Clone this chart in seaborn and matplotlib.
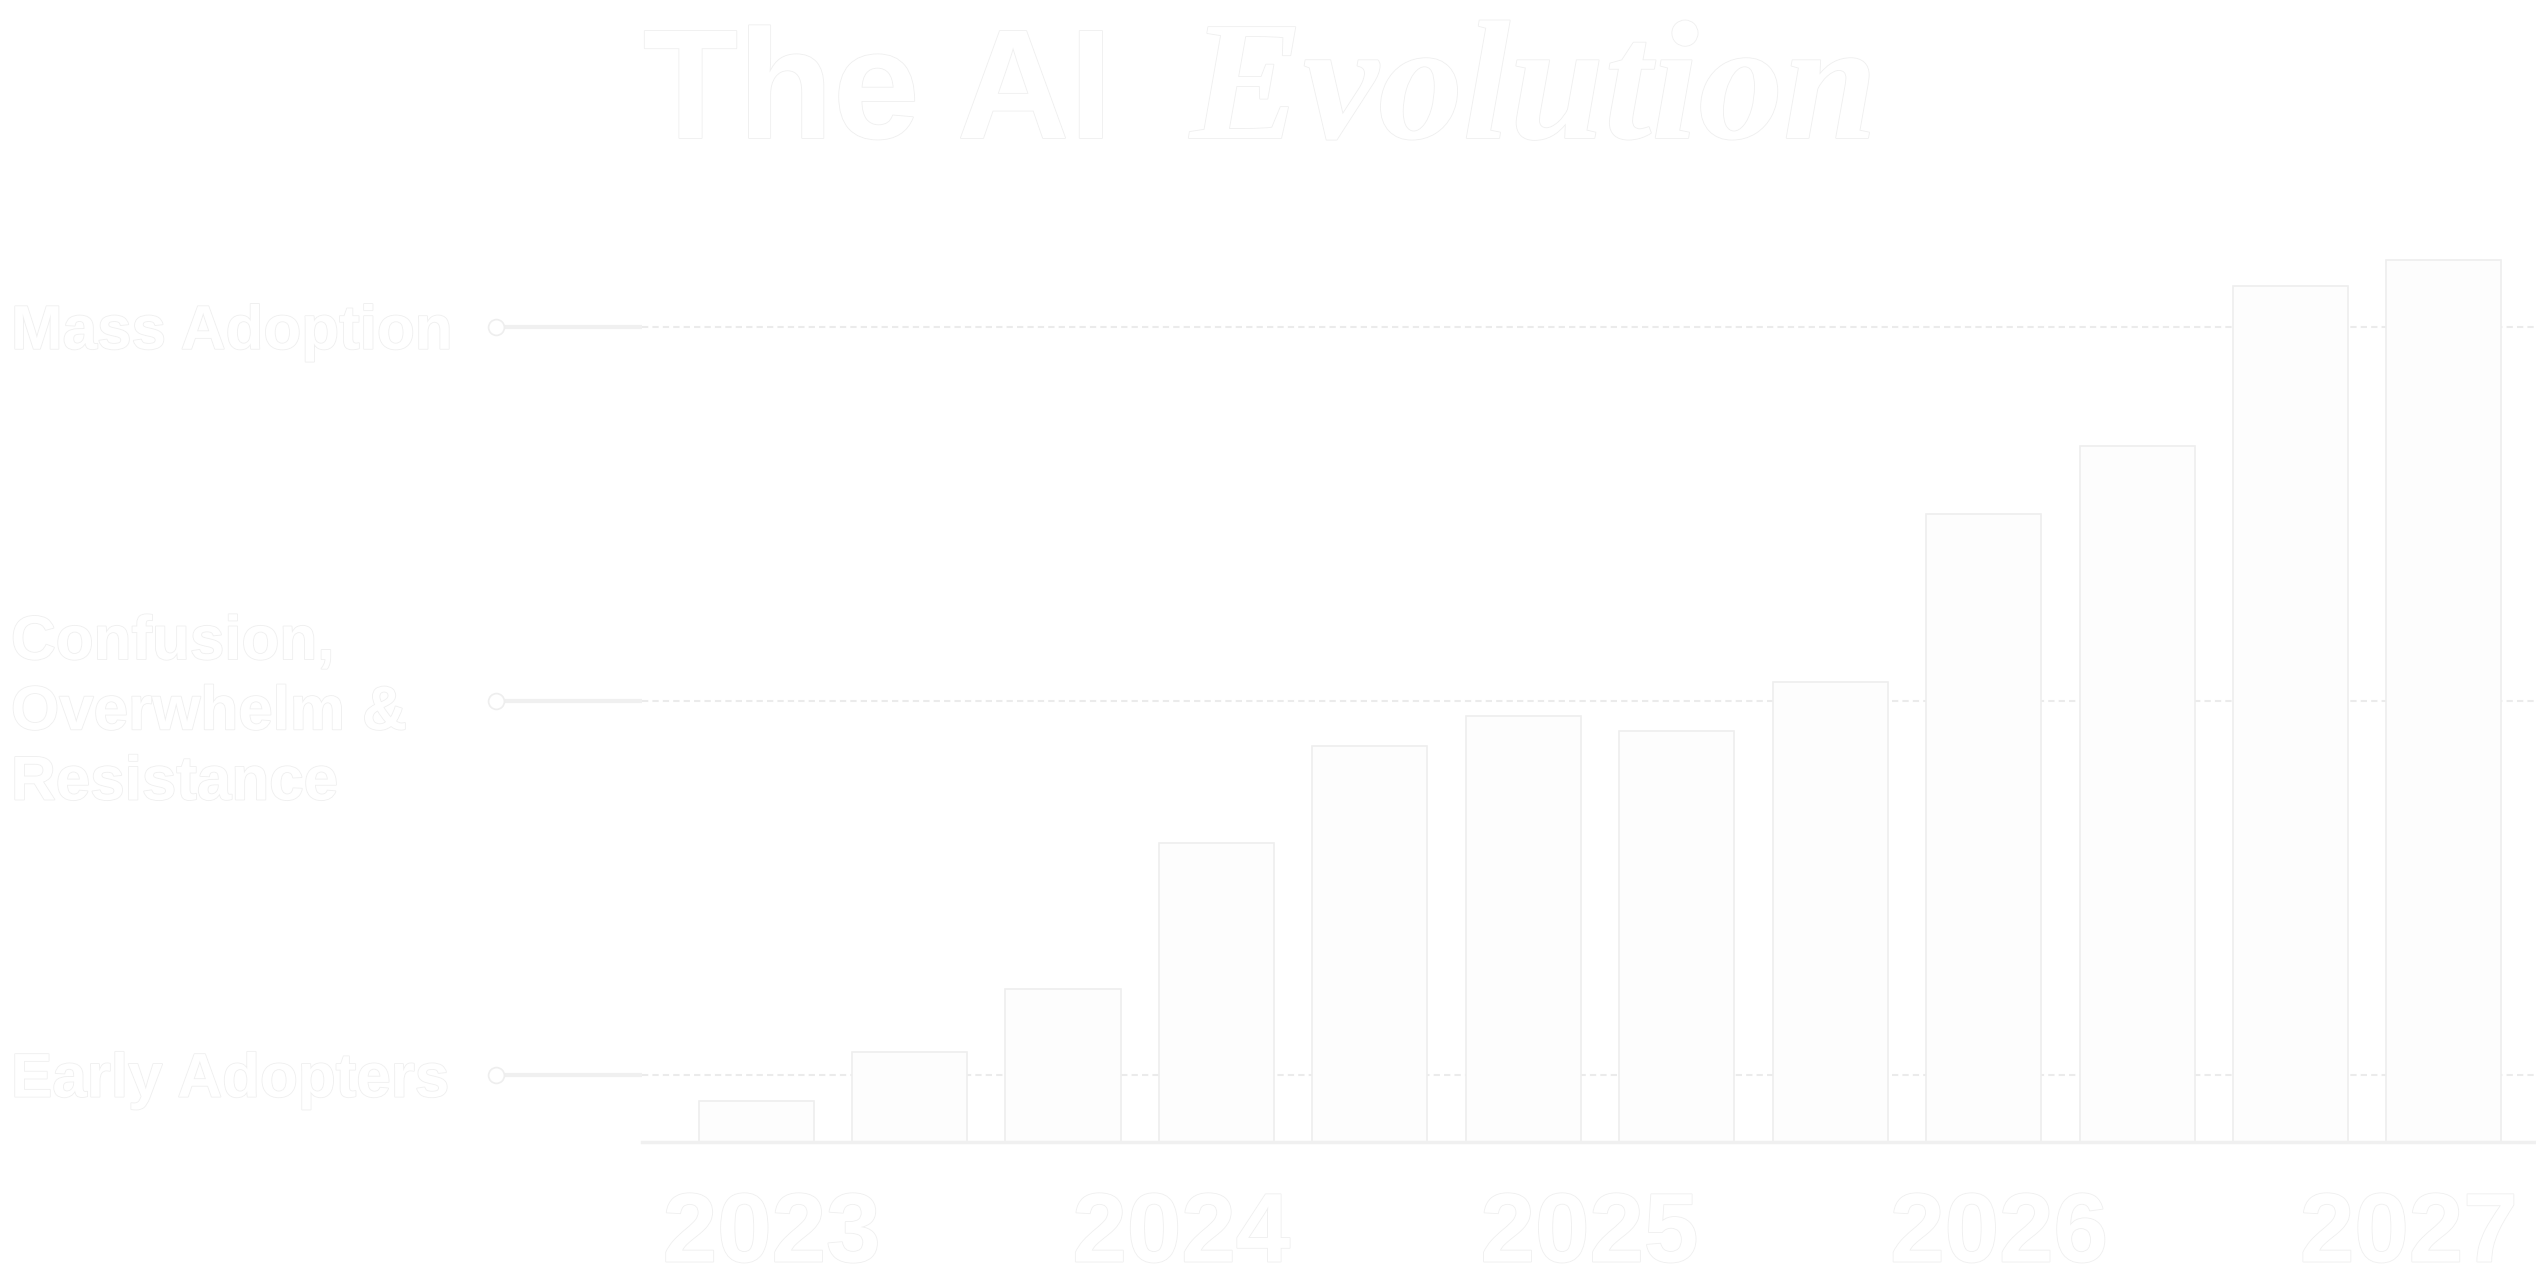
import numpy as np
import pandas as pd
import matplotlib
matplotlib.use("Agg")
import matplotlib.pyplot as plt
import matplotlib.patheffects as pe
from matplotlib.transforms import blended_transform_factory
import seaborn as sns

# bar heights, in units of the three adoption stages (1 = early adopters ... 3 = mass adoption)
bar_steps = [0, 1, 2, 3, 4, 5, 6, 7, 8, 9, 10, 11]
bar_levels = [0.93, 1.06, 1.23, 1.62, 1.88, 1.96, 1.92, 2.05, 2.50, 2.68, 3.11, 3.18]

year_pos = [0.1, 2.77, 5.43, 8.1, 10.77]
year_labels = ["2023", "2024", "2025", "2026", "2027"]

stage_pos = [1, 2, 3]
stage_labels = ["Early Adopters", "Confusion,\nOverwhelm &\nResistance", "Mass Adoption"]

sns.set_theme(style="white")
plt.rcParams['font.family'] = ['Liberation Sans', 'DejaVu Sans']

TEXT = "#ffffff"
EDGE = "#eeeeee"
outline = [pe.withStroke(linewidth=1.2, foreground="#efefef")]

df = pd.DataFrame({"step": bar_steps, "level": bar_levels})

fig = plt.figure(figsize=(25.36, 12.82), dpi=100, facecolor="white")
ax = fig.add_axes([0.2532, 0.1092, 0.7468, 0.6942])
ax.set_facecolor("white")

sns.barplot(data=df, x="step", y="level", native_scale=True, width=0.75,
            color="#fdfdfd", saturation=1, edgecolor=EDGE, linewidth=1.2,
            errorbar=None, zorder=2, ax=ax)

ax.set_xlim(-0.743, 11.6)
ax.set_ylim(0.82, 3.2)
ax.set_xlabel("")
ax.set_ylabel("")

# dashed guide lines behind the bars
for y in stage_pos:
    ax.axhline(y, color="#ebebeb", lw=1.5, ls=(0, (3, 2)), zorder=1)

for s in ["top", "right", "left"]:
    ax.spines[s].set_visible(False)
ax.spines["bottom"].set_color("#f0f0f0")
ax.spines["bottom"].set_linewidth(2.5)

ax.set_xticks(year_pos, year_labels)
ax.tick_params(axis="x", length=0, pad=35, labelsize=70.5, labelcolor=TEXT)
for lab in ax.get_xticklabels():
    lab.set_fontweight("bold")
    lab.set_path_effects(outline)

ax.set_yticks(stage_pos, stage_labels)
ax.tick_params(axis="y", direction="out", length=99.4, width=3, color="#f0f0f0",
               pad=355, labelsize=44.6, labelcolor=TEXT, left=True)
for lab in ax.get_yticklabels():
    lab.set_fontweight("bold")
    lab.set_horizontalalignment("left")
    lab.set_linespacing(1.3)
    lab.set_path_effects(outline)

# round knobs at the outer end of each stage tick
trans = blended_transform_factory(ax.transAxes, ax.transData)
ax.scatter([-0.0771] * len(stage_pos), stage_pos, s=130, color="white",
           edgecolor=EDGE, linewidth=1.2, transform=trans, clip_on=False, zorder=5)

# title: sans part + serif italic part
fig.text(643 / 2536, 1 - 138 / 1282, "The AI", fontsize=112, fontweight="bold",
         color=TEXT, ha="left", va="baseline", path_effects=outline)
fig.text(1190 / 2536, 1 - 138 / 1282, "Evolution", fontsize=122, fontweight="bold",
         fontstyle="italic", family=["Liberation Serif", "DejaVu Serif"],
         color=TEXT, ha="left", va="baseline", path_effects=outline)

fig.savefig("out.png", dpi=100, facecolor="white")
